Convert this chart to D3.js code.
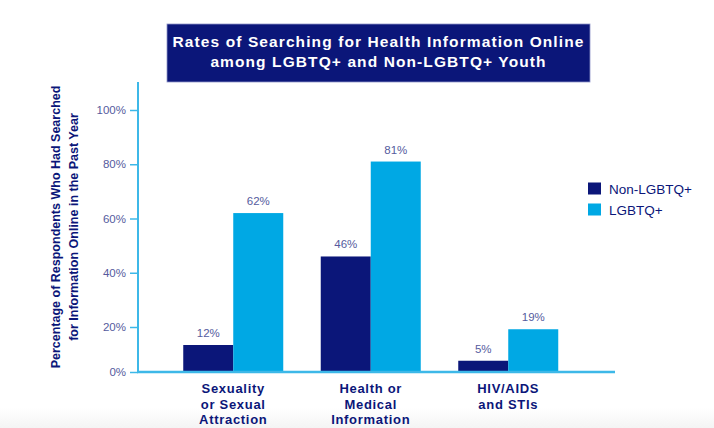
<!DOCTYPE html>
<html>
<head>
<meta charset="utf-8">
<script src="https://cdn.jsdelivr.net/npm/d3@7"></script>
<style>
  body { margin: 0; background: #fff; }
  svg { display: block; font-family: "Liberation Sans", Arial, sans-serif; }
</style>
</head>
<body>
<div id="wrapper"></div>
<script>
// data
const categories = ["Sexuality or Sexual Attraction", "Health or Medical Information", "HIV/AIDS and STIs"]
const categoryLines = [["Sexuality", "or Sexual", "Attraction"], ["Health or", "Medical", "Information"], ["HIV/AIDS", "and STIs"]]
const seriesNames = ["Non-LGBTQ+", "LGBTQ+"]
const nonLgbtq = [12, 46, 5]
const lgbtq = [62, 81, 19]
const yTicks = [0, 20, 40, 60, 80, 100]
const titleLines = ["Rates of Searching for Health Information Online", "among LGBTQ+ and Non-LGBTQ+ Youth"]
const yTitleLines = ["Percentage of Respondents Who Had Searched", "for Information Online in the Past Year"]

function drawBars() {
  const colors = ["#0b1679", "#00a8e4"]
  const labelColor = "#555b9e"
  const navy = "#0b1679"

  const dimensions = {
    width: 714,
    height: 428,
    margin: { top: 82, right: 100, bottom: 56, left: 138 },
  }
  const baseline = 372

  const wrapper = d3.select("#wrapper")
    .append("svg")
      .attr("width", dimensions.width)
      .attr("height", dimensions.height)

  // faint bottom fade
  const defs = wrapper.append("defs")
  const grad = defs.append("linearGradient")
      .attr("id", "fade").attr("x1", 0).attr("x2", 0).attr("y1", 0).attr("y2", 1)
  grad.append("stop").attr("offset", "0%").attr("stop-color", "#ffffff")
  grad.append("stop").attr("offset", "100%").attr("stop-color", "#f4f4f4")
  wrapper.append("rect")
      .attr("x", 0).attr("y", 408)
      .attr("width", dimensions.width).attr("height", 20)
      .attr("fill", "url(#fade)")

  // scales (the original axis squeezes the first 20%)
  const yScale = d3.scaleLinear()
    .domain([0, 20, 100])
    .range([baseline, 327, 110])

  const xScale = d3.scaleBand()
    .domain(categories)
    .range([164.5, 577])
    .paddingInner(0.2727)
    .paddingOuter(0.13635)

  const xSub = d3.scaleBand()
    .domain(seriesNames)
    .range([0, xScale.bandwidth()])

  const rows = categories.map((c, i) => ({
    category: c,
    values: [
      { key: seriesNames[0], value: nonLgbtq[i] },
      { key: seriesNames[1], value: lgbtq[i] },
    ],
  }))

  // bars
  const groups = wrapper.selectAll(".group")
    .data(rows)
    .enter().append("g")
      .attr("class", "group")
      .attr("transform", d => `translate(${xScale(d.category)},0)`)

  groups.selectAll("rect")
    .data(d => d.values)
    .enter().append("rect")
      .attr("x", d => xSub(d.key))
      .attr("y", d => yScale(d.value))
      .attr("width", xSub.bandwidth())
      .attr("height", d => baseline - yScale(d.value))
      .attr("fill", (d, i) => colors[i])

  groups.selectAll(".value-label")
    .data(d => d.values)
    .enter().append("text")
      .attr("class", "value-label")
      .attr("x", d => xSub(d.key) + xSub.bandwidth() / 2)
      .attr("y", d => yScale(d.value) - 8)
      .attr("text-anchor", "middle")
      .attr("font-size", 11.5)
      .attr("fill", labelColor)
      .text(d => d.value + "%")

  // y axis
  const yAxisGenerator = d3.axisLeft(yScale)
    .tickValues(yTicks)
    .tickSize(8)
    .tickPadding(4)
    .tickFormat(d => d + "%")

  const yAxis = wrapper.append("g")
      .attr("transform", `translate(${dimensions.margin.left},0)`)
      .call(yAxisGenerator)
  yAxis.select(".domain").remove()
  yAxis.selectAll(".tick line").attr("stroke", "#3db8e8").attr("stroke-width", 1.5)
  yAxis.selectAll(".tick text")
      .attr("fill", labelColor)
      .attr("font-size", 11.5)
      .attr("font-family", "'Liberation Sans', Arial, sans-serif")

  wrapper.append("line")
      .attr("x1", dimensions.margin.left).attr("x2", dimensions.margin.left)
      .attr("y1", dimensions.margin.top).attr("y2", baseline + 1)
      .attr("stroke", "#3db8e8").attr("stroke-width", 2)

  // x baseline
  wrapper.append("line")
      .attr("x1", dimensions.margin.left - 1).attr("x2", 615)
      .attr("y1", baseline).attr("y2", baseline)
      .attr("stroke", "#3db8e8").attr("stroke-width", 2.5)

  // category labels
  const xLabels = wrapper.selectAll(".x-label")
    .data(rows)
    .enter().append("text")
      .attr("class", "x-label")
      .attr("text-anchor", "middle")
      .attr("font-size", 13)
      .attr("font-weight", "bold")
      .attr("letter-spacing", 0.7)
      .attr("fill", navy)
  xLabels.each(function(d, i) {
    d3.select(this).selectAll("tspan")
      .data(categoryLines[i])
      .enter().append("tspan")
        .attr("x", xScale(d.category) + xScale.bandwidth() / 2)
        .attr("y", (t, j) => 393 + j * 15.5)
        .text(t => t)
  })

  // y axis title
  const yTitle = wrapper.append("text")
      .attr("transform", "translate(64,227) rotate(-90)")
      .attr("text-anchor", "middle")
      .attr("font-size", 12.5)
      .attr("font-weight", "bold")
      .attr("fill", navy)
  yTitle.selectAll("tspan")
    .data(yTitleLines)
    .enter().append("tspan")
      .attr("x", 0)
      .attr("y", (t, j) => -4 + j * 18)
      .text(t => t)

  // title box
  wrapper.append("rect")
      .attr("x", 167).attr("y", 24)
      .attr("width", 423).attr("height", 58)
      .attr("fill", navy)
      .attr("stroke", "#8f95c8").attr("stroke-width", 0.8)
  const title = wrapper.append("text")
      .attr("text-anchor", "middle")
      .attr("font-size", 15.5)
      .attr("font-weight", "bold")
      .attr("letter-spacing", 1.1)
      .attr("fill", "#ffffff")
  title.selectAll("tspan")
    .data(titleLines)
    .enter().append("tspan")
      .attr("x", 378.5)
      .attr("y", (t, j) => 47 + j * 20)
      .text(t => t)

  // legend
  const legend = wrapper.selectAll(".legend")
    .data(seriesNames)
    .enter().append("g")
      .attr("class", "legend")
      .attr("transform", (d, i) => `translate(588,${182.5 + i * 21})`)
  legend.append("rect")
      .attr("width", 13).attr("height", 12)
      .attr("fill", (d, i) => colors[i])
  legend.append("text")
      .attr("x", 21).attr("y", 11)
      .attr("font-size", 13.5)
      .attr("fill", navy)
      .text(d => d)
}
drawBars()
</script>
</body>
</html>
